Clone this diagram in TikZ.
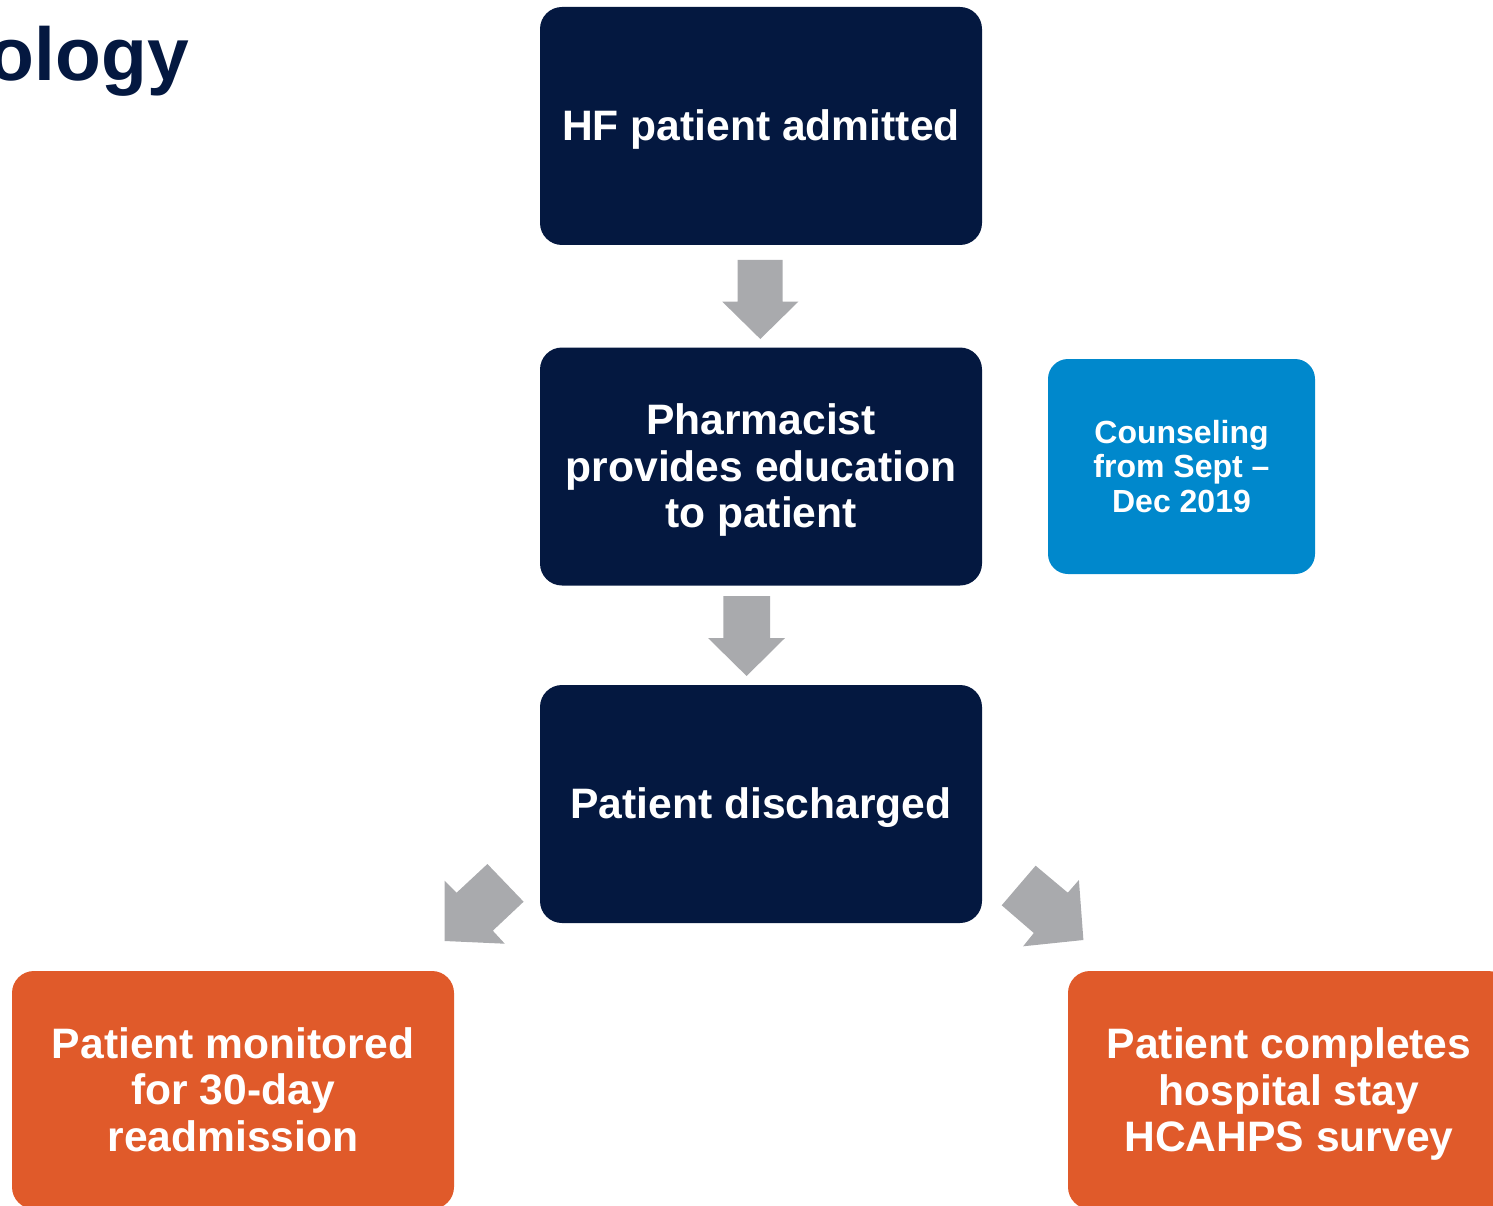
\documentclass[tikz,border=0pt]{standalone}
\usepackage{fontspec}
\setmainfont{Liberation Sans}
\begin{document}
\definecolor{navy}{HTML}{041840}
\definecolor{skyblue}{HTML}{0088CC}
\definecolor{burnt}{HTML}{E05A2A}
\definecolor{arrowgray}{HTML}{A9AAAD}
\begin{tikzpicture}[x=1pt,y=-1pt,
  stepbox/.style={fill=navy, rounded corners=22pt, minimum width=442pt,
    minimum height=238pt, inner sep=0pt},
  notebox/.style={fill=skyblue, rounded corners=20pt, minimum width=267pt,
    minimum height=215pt, inner sep=0pt},
  outbox/.style={fill=burnt, rounded corners=22pt, minimum width=442pt,
    minimum height=238pt, inner sep=0pt},
  bigtext/.style={inner sep=0pt, align=center, text=white,
    font=\bfseries\fontsize{42.6}{46.5}\selectfont},
  smalltext/.style={inner sep=0pt, align=center, text=white,
    font=\bfseries\fontsize{32}{34.5}\selectfont},
  blockarrow/.style={fill=arrowgray, draw=none}]
\useasboundingbox (0,0) rectangle (1493,1206);
\clip (0,0) rectangle (1493,1206);

% heading
\node[anchor=base east, inner sep=0pt, text=navy,
  font=\bfseries\fontsize{75}{80}\selectfont] (title) at (189,81) {ology};

% main flow boxes
\node[stepbox] (admit) at (761,126) {};
\node[stepbox] (educ) at (761,466.5) {};
\node[stepbox] (disch) at (761,804) {};
\node[notebox] (period) at (1181.5,466.5) {};
\node[outbox] (readm) at (233,1090) {};
\node[outbox] (survey) at (1289,1090) {};

% box captions
\node[bigtext] (admit-t) at ([yshift=-3pt]admit.center) {HF patient admitted};
\node[bigtext] (educ-t) at ([yshift=-3.5pt]educ.center) {Pharmacist\\provides education\\to patient};
\node[bigtext] (disch-t) at ([yshift=-4pt]disch.center) {Patient discharged};
\node[smalltext] (period-t) at (period.center) {Counseling\\from Sept --\\Dec 2019};
\node[bigtext] (readm-t) at ([yshift=0.5pt]readm.center) {Patient monitored\\for 30-day\\readmission};
\node[bigtext] (survey-t) at ([yshift=-4pt]survey.center) {Patient completes\\hospital stay\\HCAHPS survey};

% block arrows between the steps
\fill[blockarrow] (737.7,260) -- (782.7,260) -- (782.7,301.7) -- (798.3,301.7)
  -- (760.3,339) -- (722.3,301.7) -- (737.7,301.7) -- cycle;
\fill[blockarrow] (723.3,596) -- (770,596) -- (770,638) -- (785,638)
  -- (746.6,676) -- (708,638) -- (723.3,638) -- cycle;
\fill[blockarrow] (487.4,864) -- (523.6,901.7) -- (492.8,930.7) -- (504.8,943.7)
  -- (444.6,941) -- (444.6,880.7) -- (456.6,892.7) -- cycle;
\fill[blockarrow] (1035.6,865.7) -- (1067.8,892.7) -- (1078.9,880) -- (1083.4,940)
  -- (1023.1,946.3) -- (1033.8,933) -- (1001.7,905.3) -- cycle;
\end{tikzpicture}
\end{document}
